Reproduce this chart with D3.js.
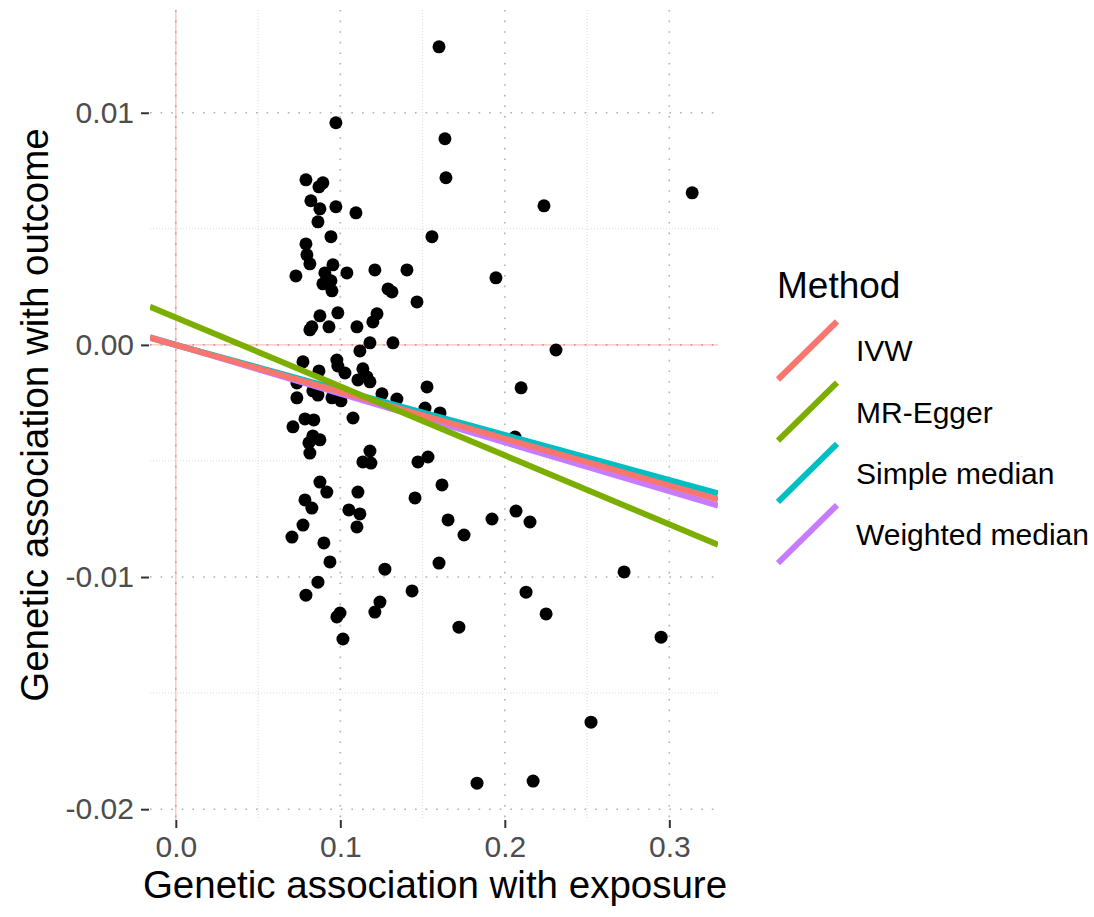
<!DOCTYPE html>
<html>
<head>
<meta charset="utf-8">
<script src="https://cdn.jsdelivr.net/npm/d3@7"></script>
<style>
  html, body { margin: 0; padding: 0; background: #ffffff; }
  svg { display: block; font-family: "Liberation Sans", Arial, sans-serif; }
</style>
</head>
<body>
<svg id="chart" width="1094" height="917"></svg>
<script>
// SNP-level genetic associations: exposure (x) and outcome (y)
const snpExposure = [
  0.1600, 0.0973, 0.1636, 0.1642, 0.3139, 0.2238, 0.0791, 0.0870, 0.0894, 0.0821,
  0.0876, 0.0973, 0.1095, 0.0864, 0.0943, 0.1557, 0.0791, 0.0797, 0.0815, 0.0730,
  0.0955, 0.0906, 0.1040, 0.1210, 0.1405, 0.0894, 0.0943, 0.0949, 0.1290, 0.1314,
  0.1466, 0.1946, 0.0876, 0.0985, 0.0815, 0.0827, 0.0931, 0.1101, 0.1198, 0.1223,
  0.1320, 0.1180, 0.1119, 0.2311, 0.0773, 0.0979, 0.0985, 0.0870, 0.1028, 0.1137,
  0.1162, 0.1180, 0.1107, 0.0736, 0.0833, 0.0736, 0.0864, 0.0949, 0.1004, 0.1253,
  0.1344, 0.1527, 0.2099, 0.1515, 0.1606, 0.1077, 0.0712, 0.0785, 0.0839, 0.0833,
  0.0876, 0.0809, 0.0815, 0.1180, 0.1137, 0.1186, 0.1472, 0.1533, 0.1618, 0.0876,
  0.0918, 0.1107, 0.1454, 0.0785, 0.0827, 0.1052, 0.1119, 0.1101, 0.0773, 0.1655,
  0.0706, 0.0900, 0.1922, 0.1752, 0.2068, 0.2153, 0.2062, 0.0937, 0.1271, 0.0864,
  0.0791, 0.1436, 0.1241, 0.1210, 0.0998, 0.0979, 0.1016, 0.1600, 0.2725, 0.2129,
  0.2251, 0.1721, 0.2950, 0.2524, 0.1831, 0.2172
];
const snpOutcome = [
  0.01284, 0.00957, 0.00888, 0.00720, 0.00655, 0.00599, 0.00711, 0.00681, 0.00698, 0.00621,
  0.00586, 0.00595, 0.00569, 0.00530, 0.00466, 0.00466, 0.00435, 0.00388, 0.00349, 0.00297,
  0.00345, 0.00310, 0.00310, 0.00323, 0.00323, 0.00263, 0.00276, 0.00233, 0.00241, 0.00228,
  0.00185, 0.00289, 0.00125, 0.00138, 0.00065, 0.00078, 0.00078, 0.00078, 0.00099, 0.00134,
  0.00009, 0.00009, -0.00026, -0.00022, -0.00073, -0.00065, -0.00091, -0.00112, -0.00121, -0.00103,
  -0.00138, -0.00159, -0.00151, -0.00164, -0.00198, -0.00228, -0.00216, -0.00228, -0.00241, -0.00211,
  -0.00233, -0.00181, -0.00185, -0.00272, -0.00293, -0.00315, -0.00353, -0.00319, -0.00323, -0.00392,
  -0.00409, -0.00422, -0.00466, -0.00457, -0.00504, -0.00509, -0.00504, -0.00483, -0.00603, -0.00591,
  -0.00634, -0.00634, -0.00659, -0.00668, -0.00703, -0.00711, -0.00728, -0.00784, -0.00776, -0.00754,
  -0.00828, -0.00853, -0.00750, -0.00819, -0.00716, -0.00763, -0.00397, -0.00935, -0.00966, -0.01022,
  -0.01078, -0.01060, -0.01108, -0.01151, -0.01155, -0.01172, -0.01267, -0.00940, -0.00978, -0.01065,
  -0.01159, -0.01216, -0.01259, -0.01625, -0.01888, -0.01879
];

// Causal-effect estimates per method (line: outcome = intercept + slope * exposure)
const methods    = ["IVW", "MR-Egger", "Simple median", "Weighted median"];
const slopes     = [-0.0202, -0.0297, -0.0194, -0.0210];
const intercepts = [0, 0.00118, 0, 0];
const methodColors = ["#F8766D", "#7CAE00", "#00BFC4", "#C77CFF"];

// Axis ticks
const xTicks = [0.0, 0.1, 0.2, 0.3];
const xTickLabels = ["0.0", "0.1", "0.2", "0.3"];
const yTicks = [0.01, 0.0, -0.01, -0.02];
const yTickLabels = ["0.01", "0.00", "-0.01", "-0.02"];
const xMinorTicks = [0.05, 0.15, 0.25];
const yMinorTicks = [0.005, -0.005, -0.015];

const points = snpExposure.map((x, i) => ({ x, y: snpOutcome[i] }));

// Panel geometry
const panel = { left: 150, right: 718, top: 10, bottom: 820 };

// Data range plus 5% padding (x range also covers the reference line at 0)
function expand(lo, hi) {
  const pad = (hi - lo) * 0.05;
  return [lo - pad, hi + pad];
}
const xDomain = expand(Math.min(0, d3.min(snpExposure)), d3.max(snpExposure));
const yDomain = expand(d3.min(snpOutcome), d3.max(snpOutcome));

const x = d3.scaleLinear().domain(xDomain).range([panel.left, panel.right]);
const y = d3.scaleLinear().domain(yDomain).range([panel.bottom, panel.top]);

const svg = d3.select("#chart");
const plot = svg.append("g");

svg.append("defs").append("clipPath").attr("id", "panel-clip")
  .append("rect")
  .attr("x", panel.left).attr("y", panel.top)
  .attr("width", panel.right - panel.left).attr("height", panel.bottom - panel.top);

// Minor grid
const grid = plot.append("g");
grid.selectAll("line.vminor").data(xMinorTicks).join("line")
  .attr("x1", d => x(d)).attr("x2", d => x(d))
  .attr("y1", panel.top).attr("y2", panel.bottom)
  .attr("stroke", "#d9d9d9").attr("stroke-width", 1).attr("stroke-dasharray", "1 2");
grid.selectAll("line.hminor").data(yMinorTicks).join("line")
  .attr("x1", panel.left).attr("x2", panel.right)
  .attr("y1", d => y(d)).attr("y2", d => y(d))
  .attr("stroke", "#d9d9d9").attr("stroke-width", 1).attr("stroke-dasharray", "1 2");

// Major grid
grid.selectAll("line.vmajor").data(xTicks).join("line")
  .attr("x1", d => x(d)).attr("x2", d => x(d))
  .attr("y1", panel.top).attr("y2", panel.bottom)
  .attr("stroke", "#b0b0b0").attr("stroke-width", 1.6).attr("stroke-dasharray", "1.6 9");
grid.selectAll("line.hmajor").data(yTicks).join("line")
  .attr("x1", panel.left).attr("x2", panel.right)
  .attr("y1", d => y(d)).attr("y2", d => y(d))
  .attr("stroke", "#b0b0b0").attr("stroke-width", 1.6).attr("stroke-dasharray", "1.6 9");

// Reference lines at zero
plot.append("line")
  .attr("x1", x(0)).attr("x2", x(0)).attr("y1", panel.top).attr("y2", panel.bottom)
  .attr("stroke", "#F8766D").attr("stroke-opacity", 0.45).attr("stroke-width", 1.4);
plot.append("line")
  .attr("x1", panel.left).attr("x2", panel.right).attr("y1", y(0)).attr("y2", y(0))
  .attr("stroke", "#F8766D").attr("stroke-opacity", 0.45).attr("stroke-width", 1.4);

// SNP points
plot.append("g").selectAll("circle").data(points).join("circle")
  .attr("cx", d => x(d.x))
  .attr("cy", d => y(d.y))
  .attr("r", 6.5)
  .attr("fill", "#000000");

// Method fit lines across the full panel width
const fitLines = methods.map((m, i) => ({
  name: m, slope: slopes[i], intercept: intercepts[i], color: methodColors[i]
}));
const drawOrder = [3, 2, 0, 1];
plot.append("g").attr("clip-path", "url(#panel-clip)")
  .selectAll("line").data(drawOrder.map(i => fitLines[i])).join("line")
  .attr("x1", x(xDomain[0]))
  .attr("x2", x(xDomain[1]))
  .attr("y1", d => y(d.intercept + d.slope * xDomain[0]))
  .attr("y2", d => y(d.intercept + d.slope * xDomain[1]))
  .attr("stroke", d => d.color)
  .attr("stroke-width", 6);

// Axes
const xAxis = d3.axisBottom(x).tickValues(xTicks)
  .tickFormat((d, i) => xTickLabels[i]).tickSize(8).tickPadding(8);
const yAxis = d3.axisLeft(y).tickValues(yTicks)
  .tickFormat((d, i) => yTickLabels[i]).tickSize(8).tickPadding(7);

const gx = svg.append("g").attr("transform", `translate(0,${panel.bottom})`).call(xAxis);
const gy = svg.append("g").attr("transform", `translate(${panel.left - 1},0)`).call(yAxis);
[gx, gy].forEach(g => {
  g.select(".domain").remove();
  g.selectAll(".tick line").attr("stroke", "#333333").attr("stroke-width", 2);
  g.selectAll(".tick text")
    .attr("fill", "#4D4D4D")
    .style("font-size", "30px")
    .style("font-family", "'Liberation Sans', Arial, sans-serif");
});

// Axis titles
svg.append("text")
  .attr("x", (panel.left + panel.right) / 2 + 1)
  .attr("y", 898)
  .attr("text-anchor", "middle")
  .attr("fill", "#000000")
  .style("font-size", "38.5px")
  .text("Genetic association with exposure");

svg.append("text")
  .attr("transform", `translate(48,${(panel.top + panel.bottom) / 2}) rotate(-90)`)
  .attr("text-anchor", "middle")
  .attr("fill", "#000000")
  .style("font-size", "38.5px")
  .text("Genetic association with outcome");

// Legend
const legend = svg.append("g");
legend.append("text")
  .attr("x", 777).attr("y", 298)
  .attr("fill", "#000000")
  .style("font-size", "37px")
  .text("Method");

const keyCenters = methods.map((m, i) => 350.5 + i * 61.2);
const keys = legend.selectAll("g.key").data(fitLines).join("g")
  .attr("transform", (d, i) => `translate(0,${keyCenters[i]})`);
keys.append("line")
  .attr("x1", 778).attr("y1", 29)
  .attr("x2", 837).attr("y2", -29)
  .attr("stroke", d => d.color)
  .attr("stroke-width", 6);
keys.append("text")
  .attr("x", 856).attr("y", 0)
  .attr("dy", "0.36em")
  .attr("fill", "#000000")
  .style("font-size", "30px")
  .text(d => d.name);
</script>
</body>
</html>
